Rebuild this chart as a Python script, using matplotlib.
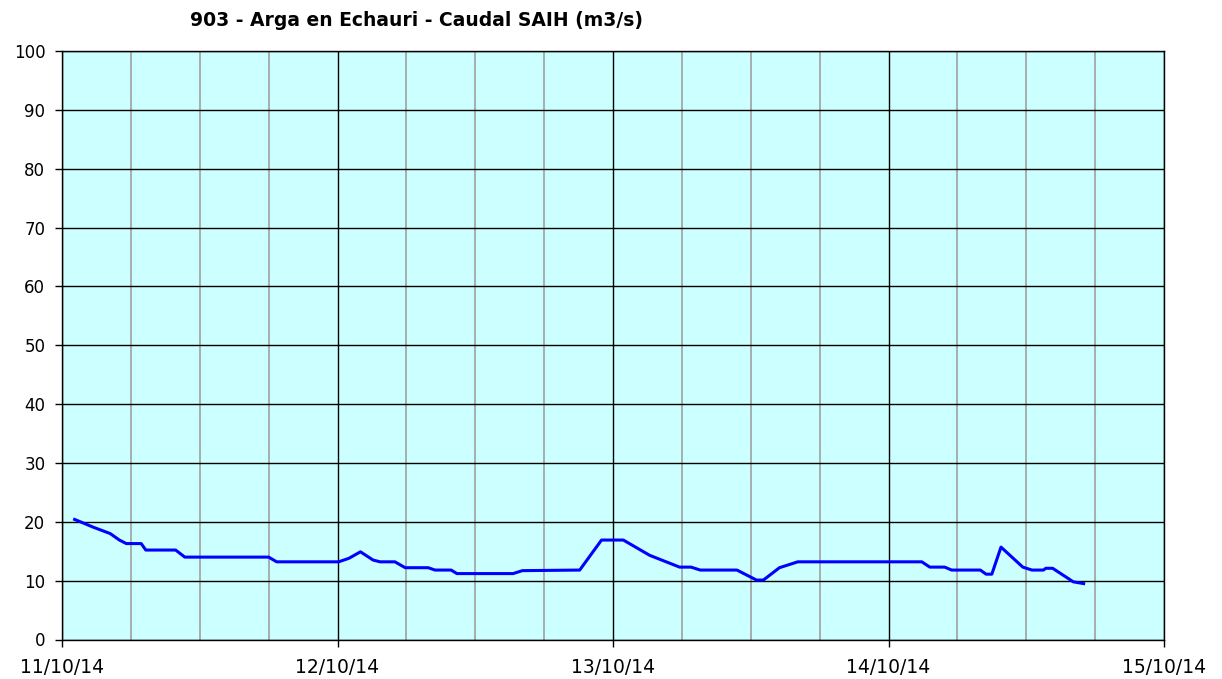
import matplotlib.pyplot as plt
import numpy as np

# horas desde 11/10/14 00:00 y caudal (m3/s)
hours = [1.1, 1.6, 2.7, 4.2, 5.0, 5.6, 6.9, 7.3, 9.9, 10.7, 18.0, 18.7, 24.1,
         25.0, 26.0, 27.1, 27.7, 29.0, 29.9, 31.9, 32.5, 33.9, 34.4, 39.3,
         40.1, 45.1, 47.0, 48.9, 51.2, 53.8, 54.8, 55.6, 58.8, 60.5, 61.1,
         62.5, 64.1, 74.9, 75.6, 76.9, 77.5, 80.0, 80.5, 81.0, 81.8, 83.7,
         84.5, 85.5, 85.7, 86.3, 88.1, 89.0]
flow = [20.4, 20.0, 19.1, 18.0, 16.9, 16.3, 16.3, 15.2, 15.2, 14.0, 14.0, 13.2, 13.2,
        13.8, 14.9, 13.5, 13.2, 13.2, 12.2, 12.2, 11.8, 11.8, 11.2, 11.2,
        11.7, 11.8, 16.9, 16.9, 14.3, 12.3, 12.3, 11.8, 11.8, 10.1, 10.1,
        12.2, 13.2, 13.2, 12.3, 12.3, 11.8, 11.8, 11.1, 11.1, 15.7, 12.3,
        11.8, 11.8, 12.1, 12.1, 9.8, 9.5]

day_labels = ['11/10/14', '12/10/14', '13/10/14', '14/10/14', '15/10/14']

fig = plt.figure(figsize=(12.22, 6.79), dpi=100)
ax = fig.add_axes([62 / 1222, 1 - 639.5 / 679, 1102 / 1222, 588.5 / 679])
ax.set_facecolor('#CCFFFF')

ax.set_xlim(0, 96)
ax.set_ylim(0, 100)
ax.set_xticks(np.arange(0, 97, 24))
ax.set_xticklabels(day_labels)
ax.set_xticks(np.arange(0, 97, 6), minor=True)
ax.set_yticks(np.arange(0, 101, 10))

ax.grid(True, which='major', color='black', linewidth=1)
ax.grid(True, which='minor', axis='x', color='#A0A0A0', linewidth=1.2)
ax.set_axisbelow(True)

ax.tick_params(which='major', direction='out', length=5, width=1, colors='black')
ax.tick_params(which='minor', length=0)
ax.tick_params(axis='x', pad=8, labelsize=13.5)
ax.tick_params(axis='y', pad=7, labelsize=12)
for s in ax.spines.values():
    s.set_color('black')
    s.set_linewidth(1)

ax.plot(hours, flow, color='#0000FF', linewidth=2.2)

fig.text(417 / 1222, 1 - 20 / 679, '903 - Arga en Echauri - Caudal SAIH (m3/s)',
         ha='center', va='center', fontsize=13.5, fontweight='bold')

fig.savefig('out.png', dpi=100)
